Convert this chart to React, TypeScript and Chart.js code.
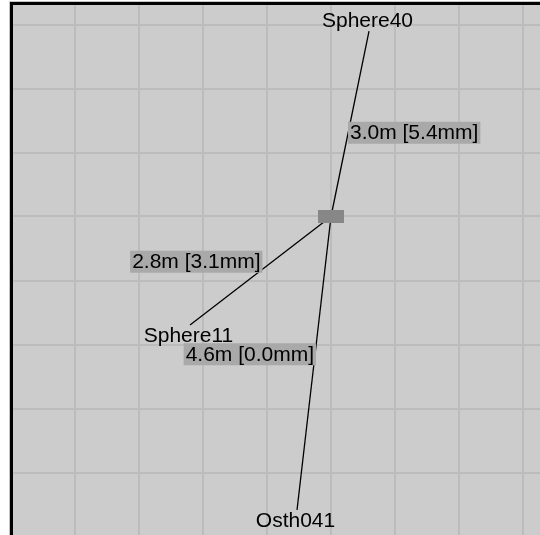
import React, { useEffect, useRef } from "react";
import { Chart, registerables } from "chart.js";

Chart.register(...registerables);

// Network: hub at origin, nodes in metres
const hubPoint = [{ x: 0, y: 0 }];
const nodeNames = ["Sphere40", "Sphere11", "Osth041"];
const nodeX = [0.594, -2.203, -0.531];
const nodeY = [2.898, -1.695, -4.586];
const distanceLabels = ["3.0m [5.4mm]", "2.8m [3.1mm]", "4.6m [0.0mm]"];

const FONT = '21px "Liberation Sans", Arial, sans-serif';

function makeHubImage(): HTMLCanvasElement {
  const c = document.createElement("canvas");
  c.width = 26;
  c.height = 13;
  const g = c.getContext("2d")!;
  g.fillStyle = "#878787";
  g.fillRect(0, 0, 26, 13);
  return c;
}

const framePlugin = {
  id: "frame",
  beforeDraw(chart: any) {
    const { ctx, width, height } = chart;
    ctx.save();
    ctx.fillStyle = "#ffffff";
    ctx.fillRect(0, 0, width, height);
    ctx.fillStyle = "#cccccc";
    ctx.fillRect(10, 2, width, height);
    ctx.strokeStyle = "#c4c4c4";
    ctx.lineWidth = 1;
    ctx.beginPath();
    ctx.moveTo(9.5, height);
    ctx.lineTo(9.5, 1.5);
    ctx.lineTo(width, 1.5);
    ctx.stroke();
    ctx.strokeStyle = "#000000";
    ctx.lineWidth = 3;
    ctx.beginPath();
    ctx.moveTo(11.5, height);
    ctx.lineTo(11.5, 3.5);
    ctx.lineTo(width, 3.5);
    ctx.stroke();
    ctx.restore();
  },
};

const labelPlugin = {
  id: "netLabels",
  afterDatasetsDraw(chart: any) {
    const { ctx } = chart;
    const xs = chart.scales.x;
    const ys = chart.scales.y;
    const hx = xs.getPixelForValue(hubPoint[0].x);
    const hy = ys.getPixelForValue(hubPoint[0].y);
    ctx.save();
    ctx.font = FONT;
    ctx.textBaseline = "alphabetic";
    // node names
    nodeNames.forEach((name, i) => {
      const px = xs.getPixelForValue(nodeX[i]);
      const py = ys.getPixelForValue(nodeY[i]);
      const up = py < hy;
      ctx.fillStyle = "#000";
      ctx.textAlign = "center";
      ctx.fillText(name, px - 1.5, up ? py - 4 : py + 17);
    });
    // distance labels at line midpoints
    distanceLabels.forEach((lab, i) => {
      const px = xs.getPixelForValue(nodeX[i]);
      const py = ys.getPixelForValue(nodeY[i]);
      const mx = (hx + px) / 2;
      const my = (hy + py) / 2;
      const w = ctx.measureText(lab).width;
      const right = px > hx;
      const up = py < hy;
      const boxH = 22;
      const boxLeft = right ? mx - 2 : mx - w - 2;
      const boxTop = up ? my - 2 : my + 2 - boxH;
      ctx.fillStyle = "#a9a9a9";
      ctx.fillRect(boxLeft, boxTop, w + 4, boxH);
      ctx.fillStyle = "#000";
      ctx.textAlign = "left";
      ctx.fillText(lab, boxLeft + 2, boxTop + 17.3);
    });
    ctx.restore();
  },
};

export default function App() {
  const ref = useRef<HTMLCanvasElement>(null);
  useEffect(() => {
    if (!ref.current) return;
    const hubImg = makeHubImage();
    const integerTicks = (scale: any) => {
      const ticks: any[] = [];
      for (let v = Math.ceil(scale.min); v <= Math.floor(scale.max); v++) {
        ticks.push({ value: v });
      }
      scale.ticks = ticks;
    };
    const zeroWidth = (scale: any) => {
      scale.width = 0;
    };
    const zeroHeight = (scale: any) => {
      scale.height = 0;
    };
    const edgeSets = nodeNames.map((name, i) => ({
      label: name,
      data: [hubPoint[0], { x: nodeX[i], y: nodeY[i] }],
      showLine: true,
      borderColor: "#000000",
      borderWidth: 1.3,
      pointRadius: 0,
      pointHoverRadius: 0,
    }));
    const chart = new Chart(ref.current, {
      type: "scatter",
      data: {
        datasets: [
          {
            label: "hub",
            data: hubPoint,
            pointStyle: hubImg as any,
            pointRadius: 6,
            pointHoverRadius: 6,
            showLine: false,
          },
          ...edgeSets,
        ] as any,
      },
      options: {
        animation: false,
        responsive: false,
        devicePixelRatio: 1,
        layout: {
          autoPadding: false,
          padding: { left: 13, top: 5, right: 0, bottom: 0 },
        },
        plugins: {
          legend: { display: false },
          tooltip: { enabled: false },
        },
        scales: {
          x: {
            type: "linear",
            min: -318 / 64,
            max: 527 / 64 - 318 / 64,
            ticks: { display: false, stepSize: 1 },
            grid: { color: "#bcbcbc", lineWidth: 2, drawTicks: false },
            border: { display: false },
            afterBuildTicks: integerTicks,
            afterFit: zeroHeight,
          },
          y: {
            type: "linear",
            min: -318.5 / 64,
            max: 211.5 / 64,
            ticks: { display: false, stepSize: 1 },
            grid: { color: "#bcbcbc", lineWidth: 2, drawTicks: false },
            border: { display: false },
            afterBuildTicks: integerTicks,
            afterFit: zeroWidth,
          },
        },
      } as any,
      plugins: [framePlugin, labelPlugin],
    });
    return () => chart.destroy();
  }, []);
  return (
    <canvas
      ref={ref}
      width={540}
      height={535}
      style={{ position: "fixed", left: 0, top: 0, display: "block" }}
    />
  );
}
